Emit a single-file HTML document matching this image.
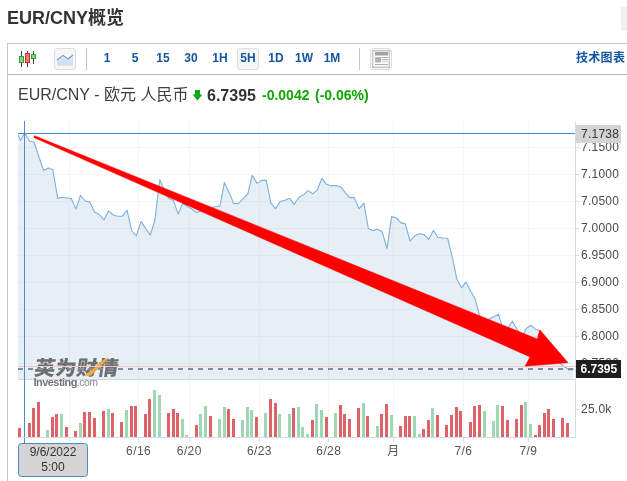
<!DOCTYPE html>
<html lang="zh-CN"><head><meta charset="utf-8"><title>EUR/CNY概览</title>
<style>
html,body{margin:0;padding:0;background:#fff;}
body{width:627px;height:481px;position:relative;overflow:hidden;font-family:"Liberation Sans","Noto Sans CJK SC",sans-serif;}
.abs{position:absolute;white-space:nowrap;}
h1{position:absolute;left:7px;top:7px;margin:0;font-size:18px;line-height:22px;font-weight:bold;color:#333;white-space:nowrap;}
.corner{position:absolute;left:621px;top:7px;width:6px;height:24px;background:#f1f1f1;}
.box{position:absolute;left:7px;top:43px;width:640px;height:460px;border:1px solid #c6c6c6;box-sizing:border-box;}
.tbline{position:absolute;left:8px;top:74px;width:619px;height:1px;background:#b9b9b9;}
.tf{position:absolute;top:49px;height:18px;line-height:18px;font-size:12px;font-weight:bold;color:#1256a0;text-align:center;}
.btn{position:absolute;top:48px;height:20px;width:20px;border:1px solid #dedede;border-radius:3px;background:#f6f6f6;}
.sep{position:absolute;top:48px;width:1px;height:22px;background:#c4c4c4;}
.chart{position:absolute;left:0;top:0;}
#wrap{position:absolute;left:0;top:0;width:627px;height:481px;will-change:transform;}
</style></head><body><div id="wrap">
<h1>EUR/CNY概览</h1>
<div class="corner"></div>
<div class="box"></div>
<div class="tbline"></div>
<svg class="abs" style="left:18px;top:49px" width="20" height="20" viewBox="0 0 20 20">
<g shape-rendering="crispEdges">
<rect x="3" y="2" width="1" height="16" fill="#3a3a3a"/><rect x="1.5" y="7.5" width="4" height="6" fill="#86d686" stroke="#2fa02f" stroke-width="1"/>
<rect x="9" y="2" width="1" height="16" fill="#3a3a3a"/><rect x="7.5" y="4.5" width="4" height="9" fill="#f27878" stroke="#d23030" stroke-width="1"/>
<rect x="15" y="2" width="1" height="13" fill="#3a3a3a"/><rect x="13.5" y="5.5" width="4" height="4" fill="#86d686" stroke="#2fa02f" stroke-width="1"/>
</g></svg>
<div class="btn" style="left:54px"></div>
<svg class="abs" style="left:56px;top:51px" width="18" height="16" viewBox="0 0 18 16">
<defs><linearGradient id="lg" x1="0" y1="0" x2="0" y2="1"><stop offset="0" stop-color="#dfe9f6"/><stop offset="1" stop-color="#cfdcf0"/></linearGradient></defs>
<polygon points="1,9 7,4.4 12,8 17,4 17,14.5 1,14.5" fill="url(#lg)"/>
<polyline points="1,9 7,4.4 12,8 17,4" fill="none" stroke="#6c9dd0" stroke-width="1.1"/>
</svg>
<div class="sep" style="left:86px"></div>
<div class="tf" style="left:100px;width:14px">1</div>
<div class="tf" style="left:128px;width:14px">5</div>
<div class="tf" style="left:153px;width:20px">15</div>
<div class="tf" style="left:181px;width:20px">30</div>
<div class="tf" style="left:209px;width:22px">1H</div>
<div class="btn" style="left:237px"></div>
<div class="tf" style="left:237px;width:22px">5H</div>
<div class="tf" style="left:265px;width:22px">1D</div>
<div class="tf" style="left:292px;width:24px">1W</div>
<div class="tf" style="left:320px;width:24px">1M</div>
<div class="sep" style="left:359px"></div>
<div class="btn" style="left:370px"></div>
<svg class="abs" style="left:372px;top:50px" width="18" height="18" viewBox="0 0 18 18">
<rect x="0" y="0" width="18" height="18" fill="#c6c6c6"/><rect x="1.5" y="1.5" width="15" height="15" fill="#fff"/>
<rect x="3" y="2" width="13" height="3.5" fill="#a4a4a4"/>
<rect x="3" y="7" width="6" height="5.5" fill="#b2b2b2"/>
<rect x="10" y="7" width="6" height="1" fill="#a8a8a8"/><rect x="10" y="9" width="6" height="1" fill="#bdbdbd"/><rect x="10" y="10.5" width="6" height="2" fill="#dedede"/>
<rect x="3" y="14" width="13" height="1" fill="#adadad"/>
</svg>
<div class="tf" style="left:576px;width:52px;text-align:left;letter-spacing:0.3px;font-family:'Liberation Sans','Noto Sans CJK SC',sans-serif">技术图表</div>
<div class="abs" style="left:18px;top:84px;font-size:16px;line-height:22px;color:#3e3e3e">EUR/CNY - 欧元 人民币</div>
<svg class="abs" style="left:192px;top:90px" width="11" height="11" viewBox="0 0 11 11"><polygon points="3,0 8,0 8,4.5 10.5,4.5 5.5,10.5 0.5,4.5 3,4.5" fill="#16a616"/></svg>
<div class="abs" style="left:207px;top:85px;font-size:16px;line-height:22px;font-weight:bold;color:#333">6.7395</div>
<div class="abs" style="left:262px;top:84px;font-size:14px;line-height:22px;font-weight:bold;color:#0ea600">-0.0042</div>
<div class="abs" style="left:315px;top:84px;font-size:14px;line-height:22px;font-weight:bold;color:#0ea600">(-0.06%)</div>
<svg class="chart" width="627" height="481" viewBox="0 0 627 481">
<g stroke="#f6f6f7" stroke-width="1" shape-rendering="crispEdges">
<line x1="18" x2="575" y1="147.5" y2="147.5"/>
<line x1="18" x2="575" y1="174.5" y2="174.5"/>
<line x1="18" x2="575" y1="201.5" y2="201.5"/>
<line x1="18" x2="575" y1="228.5" y2="228.5"/>
<line x1="18" x2="575" y1="255.5" y2="255.5"/>
<line x1="18" x2="575" y1="282.5" y2="282.5"/>
<line x1="18" x2="575" y1="309.5" y2="309.5"/>
<line x1="18" x2="575" y1="336.5" y2="336.5"/>
<line x1="18" x2="575" y1="363.5" y2="363.5"/>
<line x1="69.5" x2="69.5" y1="122" y2="437"/>
<line x1="138.5" x2="138.5" y1="122" y2="437"/>
<line x1="189.5" x2="189.5" y1="122" y2="437"/>
<line x1="259.5" x2="259.5" y1="122" y2="437"/>
<line x1="328.5" x2="328.5" y1="122" y2="437"/>
<line x1="393.5" x2="393.5" y1="122" y2="437"/>
<line x1="463.5" x2="463.5" y1="122" y2="437"/>
<line x1="528.5" x2="528.5" y1="122" y2="437"/>
</g>
<polygon points="18,379.0 18.2,134.9 20.4,140.5 24.6,133 29.6,141.3 34,142 38.8,156.5 43.6,170.5 48.5,168.1 52.8,169.7 57.7,198.4 62.2,197.3 67,198 71.4,198.7 75.9,209.1 80.5,195.5 85.3,201 89.8,201.9 94.4,211.9 99.2,214.5 104,219.8 108.6,210.8 113.2,215 117.7,216.3 122.3,216.3 127,210.2 131.8,231 136.3,235.9 141.1,221.4 145.7,228.6 150.3,235 154.9,220 159.7,179.7 164.2,190.5 168.9,198.2 173.4,200.4 178.2,214.1 182.7,203.3 187.3,206.5 191.9,209 196.4,212.5 200.9,211.3 205.6,209 210.3,208 215.1,206.8 219.9,206.1 224.4,182.5 229.2,192.9 233.8,203.8 238.5,203.4 243.3,198.6 247.8,194 252.2,175.2 257,183.4 261.6,180.4 266.3,180.4 270.9,203.1 275.5,208.6 280.1,201.5 284.9,200.2 289.5,198.3 294.2,204.3 298.8,197.8 303.4,194.8 308,190.6 312.7,193.8 317.3,189.8 321.9,178.3 326.5,184.3 331.1,185.9 335.8,185.5 340.5,186.7 345.1,192.3 349.7,197.6 354.3,197.6 359,208.8 363.8,203.2 368.4,228.7 372.8,230.6 377.5,229.3 382.2,231.8 387,248.5 391.6,216.6 396.2,217.7 400.8,222.6 405.3,223.9 410.1,241 414.9,235.6 419.3,233.7 424.1,234.5 428.7,239.3 433.4,230.5 438,237.2 442.8,238 447.6,238.2 452.3,257 456.9,279.3 461.5,287.8 465.9,281.9 470.6,291.1 475.2,299.1 479.9,317 484.5,322 489.1,319.1 493.8,316.7 498.4,314.3 503,328.6 507.7,328.5 512.3,321.2 517,329 521.6,338.5 526.2,328.4 530.8,325.3 535.5,329.2 540.1,331 544.7,340 549.4,349 554,356 558.6,362 563.2,366 568,369 573,369 573,379.0" fill="#7aa5cf" fill-opacity="0.19"/>
<polyline points="18.2,134.9 20.4,140.5 24.6,133 29.6,141.3 34,142 38.8,156.5 43.6,170.5 48.5,168.1 52.8,169.7 57.7,198.4 62.2,197.3 67,198 71.4,198.7 75.9,209.1 80.5,195.5 85.3,201 89.8,201.9 94.4,211.9 99.2,214.5 104,219.8 108.6,210.8 113.2,215 117.7,216.3 122.3,216.3 127,210.2 131.8,231 136.3,235.9 141.1,221.4 145.7,228.6 150.3,235 154.9,220 159.7,179.7 164.2,190.5 168.9,198.2 173.4,200.4 178.2,214.1 182.7,203.3 187.3,206.5 191.9,209 196.4,212.5 200.9,211.3 205.6,209 210.3,208 215.1,206.8 219.9,206.1 224.4,182.5 229.2,192.9 233.8,203.8 238.5,203.4 243.3,198.6 247.8,194 252.2,175.2 257,183.4 261.6,180.4 266.3,180.4 270.9,203.1 275.5,208.6 280.1,201.5 284.9,200.2 289.5,198.3 294.2,204.3 298.8,197.8 303.4,194.8 308,190.6 312.7,193.8 317.3,189.8 321.9,178.3 326.5,184.3 331.1,185.9 335.8,185.5 340.5,186.7 345.1,192.3 349.7,197.6 354.3,197.6 359,208.8 363.8,203.2 368.4,228.7 372.8,230.6 377.5,229.3 382.2,231.8 387,248.5 391.6,216.6 396.2,217.7 400.8,222.6 405.3,223.9 410.1,241 414.9,235.6 419.3,233.7 424.1,234.5 428.7,239.3 433.4,230.5 438,237.2 442.8,238 447.6,238.2 452.3,257 456.9,279.3 461.5,287.8 465.9,281.9 470.6,291.1 475.2,299.1 479.9,317 484.5,322 489.1,319.1 493.8,316.7 498.4,314.3 503,328.6 507.7,328.5 512.3,321.2 517,329 521.6,338.5 526.2,328.4 530.8,325.3 535.5,329.2 540.1,331 544.7,340 549.4,349 554,356 558.6,362 563.2,366 568,369 573,369" fill="none" stroke="#7eb0da" stroke-width="1.1" stroke-linejoin="round"/>
<line x1="568" x2="573.5" y1="369.3" y2="369.3" stroke="#5b98cf" stroke-width="2"/>
<rect x="18" y="379.0" width="557" height="1" fill="#cfd6dd"/>
<g>
<text transform="translate(33.5,374.5) skewX(-9)" x="0" y="0" font-family="Liberation Sans, Noto Sans CJK SC, sans-serif" font-size="20" font-weight="900" fill="#6e6e6e" textLength="84" lengthAdjust="spacingAndGlyphs">英为财情</text>
<polygon points="84.8,375.8 91,375.8 109,358.3 105.4,358.3" fill="#f3a73a"/>
<text x="33.5" y="385.7" font-family="Liberation Sans, Arial, sans-serif" font-size="11" font-weight="bold" fill="#747474" letter-spacing="-0.55">Investing<tspan font-weight="normal" fill="#8c8c8c" font-size="10.5">.com</tspan></text>
</g>
<rect x="18" y="366" width="557" height="1" fill="#f5c6c6"/>
<line x1="18" x2="575" y1="369" y2="369" stroke="#858c94" stroke-width="2" stroke-dasharray="5 5"/>
<rect x="18" y="133" width="558" height="1" fill="#4c8bcb"/>
<rect x="24" y="121" width="1" height="323" fill="#4c8bcb"/>
<g shape-rendering="crispEdges">
<rect x="18" y="428.1" width="3" height="8.9" fill="#de6267"/>
<rect x="28" y="423.3" width="3" height="13.7" fill="#de6267"/>
<rect x="32" y="408.3" width="3" height="28.7" fill="#de6267"/>
<rect x="37" y="402.2" width="3" height="34.8" fill="#de6267"/>
<rect x="46" y="430.1" width="3" height="6.9" fill="#9fd6b4"/>
<rect x="51" y="417.4" width="3" height="19.6" fill="#de6267"/>
<rect x="55" y="414.2" width="3" height="22.8" fill="#de6267"/>
<rect x="60" y="414.2" width="3" height="22.8" fill="#9fd6b4"/>
<rect x="65" y="427.3" width="3" height="9.7" fill="#de6267"/>
<rect x="74" y="431.3" width="3" height="5.7" fill="#de6267"/>
<rect x="79" y="423.3" width="3" height="13.7" fill="#9fd6b4"/>
<rect x="83" y="411.5" width="3" height="25.5" fill="#de6267"/>
<rect x="88" y="411.5" width="3" height="25.5" fill="#de6267"/>
<rect x="93" y="418.2" width="3" height="18.8" fill="#de6267"/>
<rect x="102" y="411.3" width="3" height="25.7" fill="#de6267"/>
<rect x="107" y="409.4" width="3" height="27.6" fill="#9fd6b4"/>
<rect x="111" y="413.4" width="3" height="23.6" fill="#de6267"/>
<rect x="120" y="422.2" width="3" height="14.8" fill="#de6267"/>
<rect x="125" y="410.2" width="3" height="26.8" fill="#9fd6b4"/>
<rect x="130" y="406.2" width="3" height="30.8" fill="#de6267"/>
<rect x="134" y="406.2" width="3" height="30.8" fill="#de6267"/>
<rect x="144" y="414.2" width="3" height="22.8" fill="#de6267"/>
<rect x="148" y="399.4" width="3" height="37.6" fill="#de6267"/>
<rect x="153" y="389.5" width="3" height="47.5" fill="#9fd6b4"/>
<rect x="158" y="395.4" width="3" height="41.6" fill="#9fd6b4"/>
<rect x="167" y="413.4" width="3" height="23.6" fill="#de6267"/>
<rect x="172" y="409.4" width="3" height="27.6" fill="#de6267"/>
<rect x="176" y="413.4" width="3" height="23.6" fill="#de6267"/>
<rect x="181" y="418.5" width="3" height="18.5" fill="#9fd6b4"/>
<rect x="185" y="435.4" width="3" height="1.6" fill="#9fd6b4"/>
<rect x="195" y="425.4" width="3" height="11.6" fill="#de6267"/>
<rect x="199" y="414.2" width="3" height="22.8" fill="#9fd6b4"/>
<rect x="204" y="406.2" width="3" height="30.8" fill="#9fd6b4"/>
<rect x="209" y="416.3" width="3" height="20.7" fill="#de6267"/>
<rect x="218" y="419.3" width="3" height="17.7" fill="#9fd6b4"/>
<rect x="223" y="407.3" width="3" height="29.7" fill="#9fd6b4"/>
<rect x="227" y="409.4" width="3" height="27.6" fill="#de6267"/>
<rect x="232" y="419.3" width="3" height="17.7" fill="#de6267"/>
<rect x="241" y="420.3" width="3" height="16.7" fill="#9fd6b4"/>
<rect x="246" y="407.3" width="3" height="29.7" fill="#9fd6b4"/>
<rect x="250" y="410.2" width="3" height="26.8" fill="#9fd6b4"/>
<rect x="255" y="417.4" width="3" height="19.6" fill="#de6267"/>
<rect x="264" y="413.4" width="3" height="23.6" fill="#9fd6b4"/>
<rect x="269" y="399.4" width="3" height="37.6" fill="#de6267"/>
<rect x="274" y="403.3" width="3" height="33.7" fill="#de6267"/>
<rect x="278" y="414.2" width="3" height="22.8" fill="#9fd6b4"/>
<rect x="288" y="414.2" width="3" height="22.8" fill="#9fd6b4"/>
<rect x="292" y="408.3" width="3" height="28.7" fill="#de6267"/>
<rect x="297" y="407.3" width="3" height="29.7" fill="#9fd6b4"/>
<rect x="301" y="427.3" width="3" height="9.7" fill="#9fd6b4"/>
<rect x="306" y="434.4" width="3" height="2.6" fill="#9fd6b4"/>
<rect x="311" y="420.3" width="3" height="16.7" fill="#de6267"/>
<rect x="315" y="404.3" width="3" height="32.7" fill="#9fd6b4"/>
<rect x="320" y="410.2" width="3" height="26.8" fill="#9fd6b4"/>
<rect x="325" y="417.4" width="3" height="19.6" fill="#de6267"/>
<rect x="334" y="413.4" width="3" height="23.6" fill="#9fd6b4"/>
<rect x="339" y="405.4" width="3" height="31.6" fill="#de6267"/>
<rect x="343" y="414.2" width="3" height="22.8" fill="#de6267"/>
<rect x="348" y="419.3" width="3" height="17.7" fill="#de6267"/>
<rect x="357" y="408.3" width="3" height="28.7" fill="#de6267"/>
<rect x="362" y="403.3" width="3" height="33.7" fill="#9fd6b4"/>
<rect x="366" y="416.3" width="3" height="20.7" fill="#de6267"/>
<rect x="376" y="426.2" width="3" height="10.8" fill="#9fd6b4"/>
<rect x="380" y="414.2" width="3" height="22.8" fill="#de6267"/>
<rect x="385" y="404.3" width="3" height="32.7" fill="#de6267"/>
<rect x="390" y="415.3" width="3" height="21.7" fill="#9fd6b4"/>
<rect x="399" y="426.2" width="3" height="10.8" fill="#de6267"/>
<rect x="404" y="416.3" width="3" height="20.7" fill="#de6267"/>
<rect x="408" y="416.3" width="3" height="20.7" fill="#de6267"/>
<rect x="413" y="416.3" width="3" height="20.7" fill="#9fd6b4"/>
<rect x="418" y="434.1" width="3" height="2.9" fill="#9fd6b4"/>
<rect x="422" y="429.3" width="3" height="7.7" fill="#de6267"/>
<rect x="427" y="420.3" width="3" height="16.7" fill="#de6267"/>
<rect x="431" y="408.3" width="3" height="28.7" fill="#9fd6b4"/>
<rect x="436" y="415.3" width="3" height="21.7" fill="#de6267"/>
<rect x="445" y="425.4" width="3" height="11.6" fill="#de6267"/>
<rect x="450" y="415.3" width="3" height="21.7" fill="#de6267"/>
<rect x="455" y="407.3" width="3" height="29.7" fill="#de6267"/>
<rect x="459" y="411.3" width="3" height="25.7" fill="#de6267"/>
<rect x="469" y="422.2" width="3" height="14.8" fill="#de6267"/>
<rect x="473" y="406.2" width="3" height="30.8" fill="#de6267"/>
<rect x="478" y="405.4" width="3" height="31.6" fill="#de6267"/>
<rect x="483" y="411.3" width="3" height="25.7" fill="#9fd6b4"/>
<rect x="492" y="421.4" width="3" height="15.6" fill="#9fd6b4"/>
<rect x="496" y="405.4" width="3" height="31.6" fill="#9fd6b4"/>
<rect x="501" y="406.2" width="3" height="30.8" fill="#de6267"/>
<rect x="506" y="420.3" width="3" height="16.7" fill="#de6267"/>
<rect x="515" y="419.3" width="3" height="17.7" fill="#de6267"/>
<rect x="520" y="405.4" width="3" height="31.6" fill="#de6267"/>
<rect x="524" y="402.2" width="3" height="34.8" fill="#9fd6b4"/>
<rect x="529" y="424.2" width="3" height="12.8" fill="#9fd6b4"/>
<rect x="534" y="435.2" width="3" height="1.8" fill="#de6267"/>
<rect x="538" y="425.4" width="3" height="11.6" fill="#de6267"/>
<rect x="543" y="413.4" width="3" height="23.6" fill="#de6267"/>
<rect x="547" y="409.4" width="3" height="27.6" fill="#de6267"/>
<rect x="552" y="419.3" width="3" height="17.7" fill="#de6267"/>
<rect x="561" y="418.2" width="3" height="18.8" fill="#de6267"/>
<rect x="566" y="423.3" width="3" height="13.7" fill="#de6267"/>
</g>
<rect x="575" y="121" width="1" height="317" fill="#d3dce9"/>
<rect x="18" y="437" width="558" height="1" fill="#d3dce9"/>
<g fill="#d3dce9">
<rect x="576" y="147" width="3" height="1"/>
<rect x="576" y="174" width="3" height="1"/>
<rect x="576" y="201" width="3" height="1"/>
<rect x="576" y="228" width="3" height="1"/>
<rect x="576" y="255" width="3" height="1"/>
<rect x="576" y="282" width="3" height="1"/>
<rect x="576" y="309" width="3" height="1"/>
<rect x="576" y="336" width="3" height="1"/>
<rect x="576" y="363" width="3" height="1"/>
<rect x="576" y="409" width="3" height="1"/>
<rect x="69" y="438" width="1" height="4"/>
<rect x="138" y="438" width="1" height="4"/>
<rect x="189" y="438" width="1" height="4"/>
<rect x="259" y="438" width="1" height="4"/>
<rect x="328" y="438" width="1" height="4"/>
<rect x="393" y="438" width="1" height="4"/>
<rect x="463" y="438" width="1" height="4"/>
<rect x="528" y="438" width="1" height="4"/>
</g>
<g font-family="Liberation Sans, Arial, sans-serif" font-size="12" fill="#4a4a4a" letter-spacing="0.25">
<text x="581" y="150.9">7.1500</text>
<text x="581" y="177.9">7.1000</text>
<text x="581" y="204.9">7.0500</text>
<text x="581" y="231.9">7.0000</text>
<text x="581" y="258.9">6.9500</text>
<text x="581" y="285.9">6.9000</text>
<text x="581" y="312.9">6.8500</text>
<text x="581" y="339.9">6.8000</text>
<text x="581" y="366.9">6.7500</text>
<text x="581" y="412.8">25.0k</text>
</g>
<g font-family="Liberation Sans, Noto Sans CJK SC, sans-serif" font-size="12" fill="#555" text-anchor="middle" letter-spacing="0.4">
<text x="138.6" y="455">6/16</text>
<text x="189.3" y="455">6/20</text>
<text x="259.4" y="455">6/23</text>
<text x="328.8" y="455">6/28</text>
<text x="393.5" y="455">月</text>
<text x="463.5" y="455">7/6</text>
<text x="528.4" y="455">7/9</text>
</g>
<rect x="576" y="125" width="45" height="18" fill="#d4d4d4"/>
<text x="581" y="138.3" font-family="Liberation Sans, Arial, sans-serif" font-size="12" fill="#333" letter-spacing="0.25">7.1738</text>
<rect x="576" y="360" width="45" height="18" fill="#1e1e1e"/>
<text x="580.5" y="373.3" font-family="Liberation Sans, Arial, sans-serif" font-size="12" font-weight="bold" fill="#fff">6.7395</text>
<polygon points="34.7,135.7 537.2,338.9 539.8,329.7 568.2,362.8 525,366.2 530,356.9 33.7,137.6" fill="#ff0000" stroke="#ff0000" stroke-width="0.4" stroke-linejoin="round"/>
<rect x="18.5" y="443.5" width="69" height="33" rx="3" ry="3" fill="#d4d4d4" stroke="#4c8bcb" stroke-width="1"/>
<g font-family="Liberation Sans, Arial, sans-serif" font-size="12" fill="#333" text-anchor="middle">
<text x="53" y="456">9/6/2022</text><text x="53" y="470.5">5:00</text></g>
</svg>
</div></body></html>
